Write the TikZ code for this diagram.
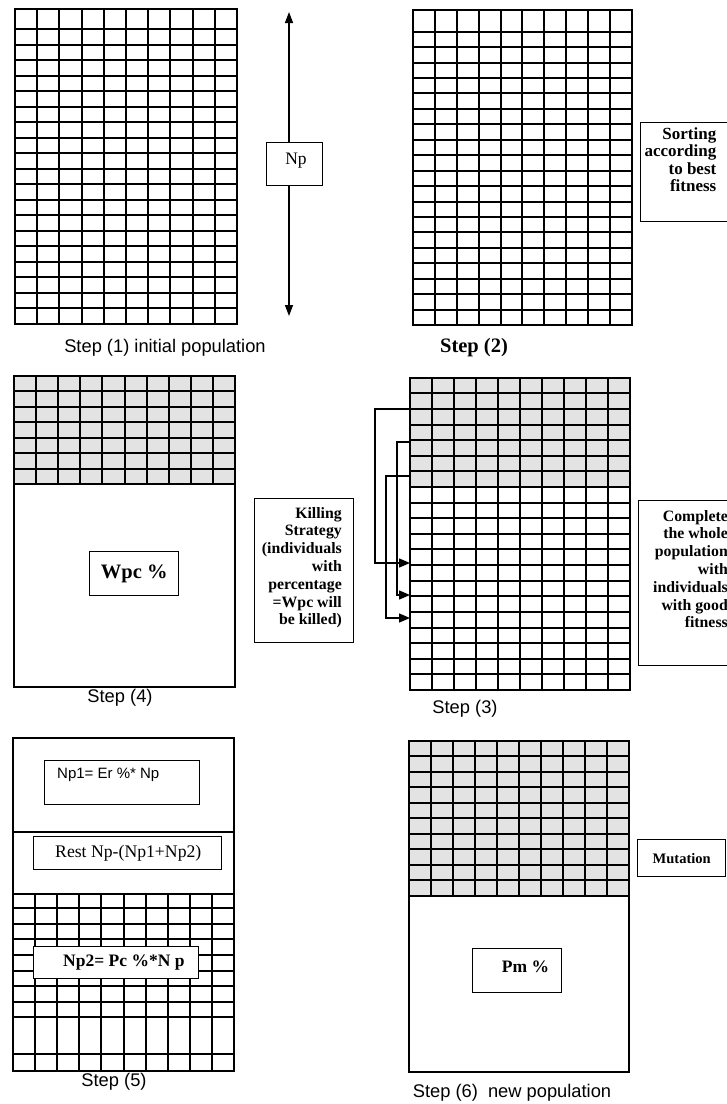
\documentclass[tikz,border=0pt]{standalone}
\usepackage{fontspec}
\setmainfont{Liberation Serif}
\setsansfont{Liberation Sans}
\usetikzlibrary{arrows.meta}
\begin{document}
\begin{tikzpicture}[x=1pt,y=-1pt,
  gridline/.style={line width=1.5pt},
  frame/.style={line width=2pt},
  shadefill/.style={fill=black!11},
  tbox/.style={draw, line width=1.4pt, fill=white, inner sep=0pt, anchor=north west},
  ttext/.style={inner sep=0pt},
  captext/.style={font=\sffamily\fontsize{18.3}{20}\selectfont, inner sep=0pt},
  nparrow/.style={-{Triangle[length=11pt,width=8pt]}, line width=1.4pt},
  brarrow/.style={-{Triangle[length=11pt,width=9pt]}, line width=1.4pt}
]
\useasboundingbox (0,0) rectangle (727,1104);

% ---------------- Step 1 ----------------
\foreach \i in {1,...,9} {\pgfmathsetmacro\xx{round(15+\i*22.2)}\draw[gridline] (\xx,9) -- (\xx,324);}
\draw[gridline] (15,29) -- (237,29);
\foreach \k in {1,...,18} {\pgfmathsetmacro\yy{round(29+\k*15.526)}\draw[gridline] (15,\yy) -- (237,\yy);}
\draw[frame] (15,9) rectangle (237,324);

\coordinate (nptop) at (289,12);
\coordinate (npbot) at (289,316);
\node[tbox, minimum width=56pt, minimum height=43pt] (npbox) at (266,142) {};
\node[ttext, font=\fontsize{17.5}{19}\selectfont] (nptext) at (296,161) {Np};
\draw[nparrow] (npbox.north -| nptop) -- (nptop);
\draw[nparrow] (npbox.south -| npbot) -- (npbot);

\node[captext] (cap1) at (165,347.5) {Step (1) initial population};

% ---------------- Step 2 ----------------
\foreach \i in {1,...,9} {\pgfmathsetmacro\xx{round(413+\i*21.9)}\draw[gridline] (\xx,10) -- (\xx,325);}
\draw[gridline] (413,32) -- (632,32);
\foreach \k in {1,...,18} {\pgfmathsetmacro\yy{round(31.7+\k*15.44)}\draw[gridline] (413,\yy) -- (632,\yy);}
\draw[frame] (413,10) rectangle (632,325);

\node[tbox, minimum width=88pt, minimum height=99pt] (sortbox) at (640,122) {};
\node[ttext, anchor=north east, align=right, font=\bfseries\fontsize{17}{17.6}\selectfont] (sorttext) at (716.5,127) {Sorting\\according\\to best\\fitness};

\node[ttext, font=\bfseries\fontsize{20.5}{22}\selectfont] (cap2) at (474,348) {Step (2)};

% ---------------- Step 4 ----------------
\fill[shadefill] (14,376) rectangle (235,484);
\foreach \i in {1,...,9} {\pgfmathsetmacro\xx{round(14+\i*22.1)}\draw[gridline] (\xx,376) -- (\xx,484);}
\foreach \k in {1,...,6} {\pgfmathsetmacro\yy{round(376+\k*15.47)}\draw[gridline] (14,\yy) -- (235,\yy);}
\draw[frame] (14,484) -- (235,484);
\draw[frame] (14,376) rectangle (235,687);

\node[tbox, minimum width=89pt, minimum height=44pt] (wpcbox) at (89,551) {};
\node[ttext, font=\bfseries\fontsize{20.5}{22}\selectfont] (wpctext) at (wpcbox.center) {Wpc \%};

\node[tbox, minimum width=99pt, minimum height=144pt] (killbox) at (254,498) {};
\node[ttext, anchor=north east, align=right, font=\bfseries\fontsize{15.8}{17.8}\selectfont] (killtext) at (342,507) {Killing\\Strategy\\(individuals\\with\\percentage\\=Wpc will\\be killed)};

\node[captext] (cap4) at (120,698) {Step (4)};

% ---------------- Step 3 ----------------
\fill[shadefill] (410,378) rectangle (630,487);
\foreach \i in {1,...,9} {\pgfmathsetmacro\xx{round(410+\i*22)}\draw[gridline] (\xx,378) -- (\xx,690);}
\foreach \k in {1,...,19} {\pgfmathsetmacro\yy{round(377.7+\k*15.615)}\draw[gridline] (410,\yy) -- (630,\yy);}
\node[draw, frame, minimum width=220pt, minimum height=312pt, inner sep=0pt, outer sep=0pt, anchor=north west] (grid3) at (410,378) {};

\coordinate (a1s) at (410,409);
\coordinate (a1c) at (375,563);
\coordinate (a2s) at (410,442);
\coordinate (a2c) at (397,595);
\coordinate (a3s) at (410,476);
\coordinate (a3c) at (386,618);
\draw[brarrow] (a1s) -| (a1c) -- (grid3.west |- a1c);
\draw[brarrow] (a2s) -| (a2c) -- (grid3.west |- a2c);
\draw[brarrow] (a3s) -| (a3c) -- (grid3.west |- a3c);

\node[tbox, minimum width=100pt, minimum height=165pt] (compbox) at (638,500) {};
\node[ttext, anchor=north east, align=right, font=\bfseries\fontsize{15.8}{17.8}\selectfont] (comptext) at (728,510) {Complete\\the whole\\population\ \ \\with\\individuals\\with good\\fitness};

\node[captext] (cap3) at (465,709) {Step (3)};

% ---------------- Step 5 ----------------
\foreach \i in {1,...,9} {\pgfmathsetmacro\xx{round(13+\i*22.1)}\draw[gridline] (\xx,894) -- (\xx,1071);}
\foreach \yy in {908,924,939,955,971,986,1002,1017,1054} \draw[gridline] (13,\yy) -- (234,\yy);
\draw[gridline] (13,832) -- (234,832);
\draw[frame] (13,894) -- (234,894);
\draw[frame] (13,738) rectangle (234,1071);

\node[tbox, minimum width=155pt, minimum height=44pt] (np1box) at (44,760) {};
\node[ttext, anchor=west, font=\sffamily\fontsize{15}{17}\selectfont] (np1text) at (57,775) {Np1= Er \%* Np};

\node[tbox, minimum width=188pt, minimum height=33pt] (restbox) at (33,836) {};
\node[ttext, anchor=west, font=\fontsize{17.7}{20}\selectfont] (resttext) at (55,853) {Rest Np-(Np1+Np2)};

\node[tbox, minimum width=165pt, minimum height=32pt] (np2box) at (33,946) {};
\node[ttext, anchor=west, font=\bfseries\fontsize{17.5}{20}\selectfont] (np2text) at (63,963) {Np2= Pc \%*N p};

\node[captext] (cap5) at (114,1082) {Step (5)};

% ---------------- Step 6 ----------------
\fill[shadefill] (409,741) rectangle (629,896);
\foreach \i in {1,...,9} {\pgfmathsetmacro\xx{round(409+\i*22)}\draw[gridline] (\xx,741) -- (\xx,896);}
\foreach \k in {1,...,9} {\pgfmathsetmacro\yy{round(740.7+\k*15.5)}\draw[gridline] (409,\yy) -- (629,\yy);}
\draw[frame] (409,896) -- (629,896);
\draw[frame] (409,741) rectangle (629,1072);

\node[tbox, minimum width=89pt, minimum height=44pt] (pmbox) at (472,948) {};
\node[ttext, font=\bfseries\fontsize{17.5}{19}\selectfont] (pmtext) at (525.5,966.5) {Pm \%};

\node[tbox, minimum width=88pt, minimum height=37pt] (mutbox) at (637,839) {};
\node[ttext, font=\bfseries\fontsize{14.5}{16}\selectfont] (muttext) at (mutbox.center) {Mutation};

\node[captext] (cap6) at (512,1093) {Step (6)\ \ new population};
\end{tikzpicture}
\end{document}
